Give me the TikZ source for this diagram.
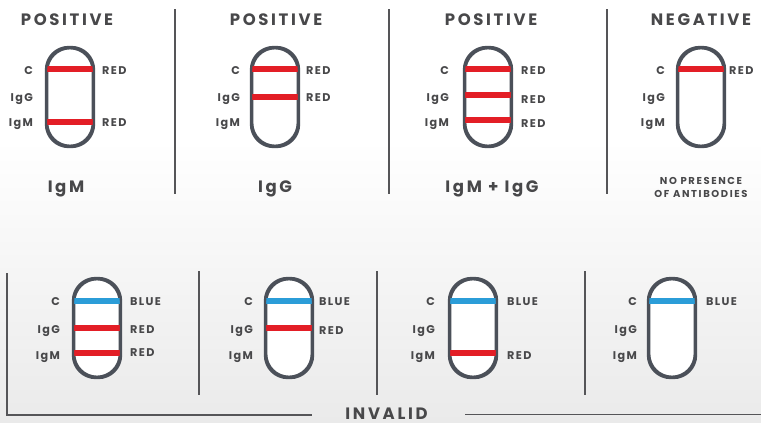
\documentclass[tikz,border=0pt]{standalone}
\usepackage{fontspec}
\setmainfont{Poppins}
\newfontfamily\ttlfont[LetterSpace=16]{Poppins}
\newfontfamily\lblfont[LetterSpace=12]{Poppins}
\newfontfamily\smlfont[LetterSpace=16]{Poppins}
\usetikzlibrary{calc}
\definecolor{redb}{RGB}{227,30,38}
\definecolor{blueb}{RGB}{43,157,216}
\definecolor{tubec}{RGB}{75,80,89}
\definecolor{txt}{RGB}{72,72,74}
\definecolor{linec}{RGB}{85,85,88}
\definecolor{bgb}{RGB}{234,234,234}
\tikzset{
  tube/.style={draw=tubec, line width=2.4pt, fill=white, minimum width=45.6pt,
    minimum height=97.6pt, rounded corners=22.8pt, inner sep=0pt},
  lbl/.style={font=\lblfont\fontsize{11.2}{13}\selectfont\bfseries, text=txt, inner sep=0pt},
  ttl/.style={font=\ttlfont\fontsize{16.5}{18}\selectfont\bfseries, text=txt, inner sep=0pt, anchor=base},
  sml/.style={font=\smlfont\fontsize{10}{12}\selectfont\bfseries, text=txt, inner sep=0pt, anchor=base},
  divider/.style={draw=linec, line width=1.5pt}
}
\newcommand\band[3]{\fill[#3] ($(#1.west)+(1.1,#2-2.8)$) rectangle ($(#1.east)+(-1.1,#2+2.8)$);}
\begin{document}
\begin{tikzpicture}[x=1pt,y=-1pt]
\useasboundingbox (0,0) rectangle (761,423);
\fill[white] (0,0) rectangle (761,423);
\shade[top color=white,bottom color=bgb] (0,140) rectangle (761,423);

% ---------- top row ----------
\node[ttl] (h1) at (67,25.7) {POSITIVE};
\node[ttl] (h2) at (276,25.7) {POSITIVE};
\node[ttl] (h3) at (491,25.7) {POSITIVE};
\node[ttl] (h4) at (701,25.7) {NEGATIVE};

\node[tube] (t1) at (70,97) {};
\node[tube] (t2) at (275,97) {};
\node[tube] (t3) at (488,97) {};
\node[tube] (t4) at (701,97) {};
\band{t1}{-28}{redb}\band{t1}{25}{redb}
\band{t2}{-28}{redb}\band{t2}{0}{redb}
\band{t3}{-28}{redb}\band{t3}{-2}{redb}\band{t3}{23}{redb}
\band{t4}{-28}{redb}
\foreach \t in {t1,t2,t3,t4}{\draw[tubec,line width=2.4pt,rounded corners=22.8pt] (\t.north west) rectangle (\t.south east);}

% left labels top
\node[lbl,anchor=base east] (c1) at (33,74) {C};
\node[lbl,anchor=base east] (g1) at (33,101.7) {IgG};
\node[lbl,anchor=base east] (m1) at (33,126) {IgM};
\node[lbl,anchor=base east] (c2) at (240,74) {C};
\node[lbl,anchor=base east] (g2) at (240,101.7) {IgG};
\node[lbl,anchor=base east] (m2) at (240,126) {IgM};
\node[lbl,anchor=base east] (c3) at (449,74) {C};
\node[lbl,anchor=base east] (g3) at (449,101.7) {IgG};
\node[lbl,anchor=base east] (m3) at (449,126) {IgM};
\node[lbl,anchor=base east] (c4) at (665,74) {C};
\node[lbl,anchor=base east] (g4) at (665,101.7) {IgG};
\node[lbl,anchor=base east] (m4) at (665,126) {IgM};
% right labels top
\node[lbl,anchor=base west] (r1a) at (102,74) {RED};
\node[lbl,anchor=base west] (r1b) at (102,126.5) {RED};
\node[lbl,anchor=base west] (r2a) at (306,74) {RED};
\node[lbl,anchor=base west] (r2b) at (306,101.3) {RED};
\node[lbl,anchor=base west] (r3a) at (521,74.5) {RED};
\node[lbl,anchor=base west] (r3b) at (521,103) {RED};
\node[lbl,anchor=base west] (r3c) at (521,127.6) {RED};
\node[lbl,anchor=base west] (r4a) at (729,74) {RED};

% captions top
\node[ttl] (f1) at (66,192.5) {IgM};
\node[ttl] (f2) at (275,192.5) {IgG};
\node[ttl] (f3) at (492,192.5) {IgM + IgG};
\node[sml] (f4a) at (701,184.3) {NO PRESENCE};
\node[sml] (f4b) at (701,197.7) {OF ANTIBODIES};

% dividers top
\draw[divider] (175,9) -- (175,194);
\draw[divider] (389,9) -- (389,194);
\draw[divider] (607,9) -- (607,194);

% ---------- bottom row ----------
\node[tube] (b1) at (97,328) {};
\node[tube] (b2) at (289,328) {};
\node[tube] (b3) at (473,328) {};
\node[tube] (b4) at (672,328) {};
\band{b1}{-27}{blueb}\band{b1}{0}{redb}\band{b1}{25}{redb}
\band{b2}{-27}{blueb}\band{b2}{0}{redb}
\band{b3}{-27}{blueb}\band{b3}{25}{redb}
\band{b4}{-27}{blueb}
\foreach \t in {b1,b2,b3,b4}{\draw[tubec,line width=2.4pt,rounded corners=22.8pt] (\t.north west) rectangle (\t.south east);}

\node[lbl,anchor=base east] (bc1) at (60,305) {C};
\node[lbl,anchor=base east] (bg1) at (60,333) {IgG};
\node[lbl,anchor=base east] (bm1) at (60,359.5) {IgM};
\node[lbl,anchor=base east] (bc2) at (253,305) {C};
\node[lbl,anchor=base east] (bg2) at (253,333) {IgG};
\node[lbl,anchor=base east] (bm2) at (253,359.5) {IgM};
\node[lbl,anchor=base east] (bc3) at (435,305) {C};
\node[lbl,anchor=base east] (bg3) at (435,333) {IgG};
\node[lbl,anchor=base east] (bm3) at (435,359.5) {IgM};
\node[lbl,anchor=base east] (bc4) at (637,305) {C};
\node[lbl,anchor=base east] (bg4) at (637,333) {IgG};
\node[lbl,anchor=base east] (bm4) at (637,359.5) {IgM};

\node[lbl,anchor=base west] (bb1) at (130,305) {BLUE};
\node[lbl,anchor=base west] (br1a) at (130,333) {RED};
\node[lbl,anchor=base west] (br1b) at (130,356.5) {RED};
\node[lbl,anchor=base west] (bb2) at (319,305) {BLUE};
\node[lbl,anchor=base west] (br2a) at (319,334) {RED};
\node[lbl,anchor=base west] (bb3) at (507,305) {BLUE};
\node[lbl,anchor=base west] (br3a) at (507,359) {RED};
\node[lbl,anchor=base west] (bb4) at (706,305) {BLUE};

\draw[divider] (199,271) -- (199,395);
\draw[divider] (377,271) -- (377,395);
\draw[divider] (585,271) -- (585,395);

\node[ttl] (inv) at (386.5,419.5) {INVALID};
\coordinate (brL) at (7,273);
\coordinate (brR) at (761,414.5);
\draw[divider] (brL) |- (312,415);
\draw[divider] (465,414.5) -- (brR);
\end{tikzpicture}
\end{document}
